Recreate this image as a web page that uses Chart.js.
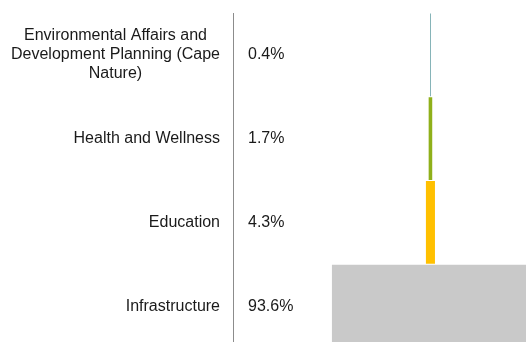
<!DOCTYPE html>
<html>
<head>
<meta charset="utf-8">
<script src="https://cdn.jsdelivr.net/npm/chart.js@4/dist/chart.umd.min.js"></script>
<style>
  html, body { margin: 0; padding: 0; background: #fff; overflow: hidden; }
  #wrap { position: relative; width: 526px; height: 348px; }
</style>
</head>
<body>
<div id="wrap"><canvas id="shareChart"></canvas></div>
<script>
  // Category names (each entry is a list of label lines) and their share of the total, in %
  const departments = [
    ["Environmental Affairs and", "Development Planning (Cape", "Nature)"],
    ["Health and Wellness"],
    ["Education"],
    ["Infrastructure"],
  ];
  const shares = [0.4, 1.7, 4.3, 93.6];
  const barColors = ["#6fa6ab", "#8fb01a", "#ffc000", "#c9c9c9"];

  const FONT = "16px 'Liberation Sans', Arial, sans-serif";
  const TEXT_COLOR = "#1a1a1a";
  const LABEL_RIGHT = 220;   // right edge of the category label column
  const VALUE_LEFT = 248;    // left edge of the percentage column
  const LINE_HEIGHT = 19;

  // Category names and percentages are drawn next to each band of the y scale.
  const sideLabels = {
    id: "sideLabels",
    afterDraw(chart) {
      const { ctx } = chart;
      const yScale = chart.scales.y;
      ctx.save();
      ctx.font = FONT;
      ctx.fillStyle = TEXT_COLOR;
      ctx.textBaseline = "middle";
      departments.forEach((lines, i) => {
        const cy = yScale.getPixelForValue(i);
        const blockW = Math.max(...lines.map((l) => ctx.measureText(l).width));
        ctx.textAlign = "center";
        lines.forEach((line, j) => {
          const dy = (j - (lines.length - 1) / 2) * LINE_HEIGHT;
          ctx.fillText(line, LABEL_RIGHT - blockW / 2, cy + dy);
        });
        ctx.textAlign = "left";
        ctx.fillText(shares[i].toFixed(1) + "%", VALUE_LEFT, cy);
      });
      ctx.restore();
    },
  };

  const ctx = document.getElementById("shareChart").getContext("2d");
  new Chart(ctx, {
    type: "bar",
    data: {
      labels: departments,
      datasets: [
        {
          // centred bars, funnel style
          data: shares.map((v) => [-v / 2, v / 2]),
          backgroundColor: barColors,
          borderWidth: 0,
          barPercentage: 0.988,
          categoryPercentage: 1,
        },
      ],
    },
    options: {
      indexAxis: "y",
      responsive: true,
      maintainAspectRatio: false,
      animation: false,
      layout: { padding: { top: 13, left: 0, right: 0, bottom: 0 } },
      plugins: {
        legend: { display: false },
        tooltip: { enabled: false },
      },
      scales: {
        x: {
          display: false,
          min: -93.8,
          max: 45.4,
        },
        y: {
          grid: { display: false, drawTicks: false },
          border: { display: true, color: "#8c8c8c", width: 1 },
          ticks: { display: false },
          afterFit(scale) {
            scale.width = 233;
          },
        },
      },
    },
    plugins: [sideLabels],
  });
</script>
</body>
</html>
